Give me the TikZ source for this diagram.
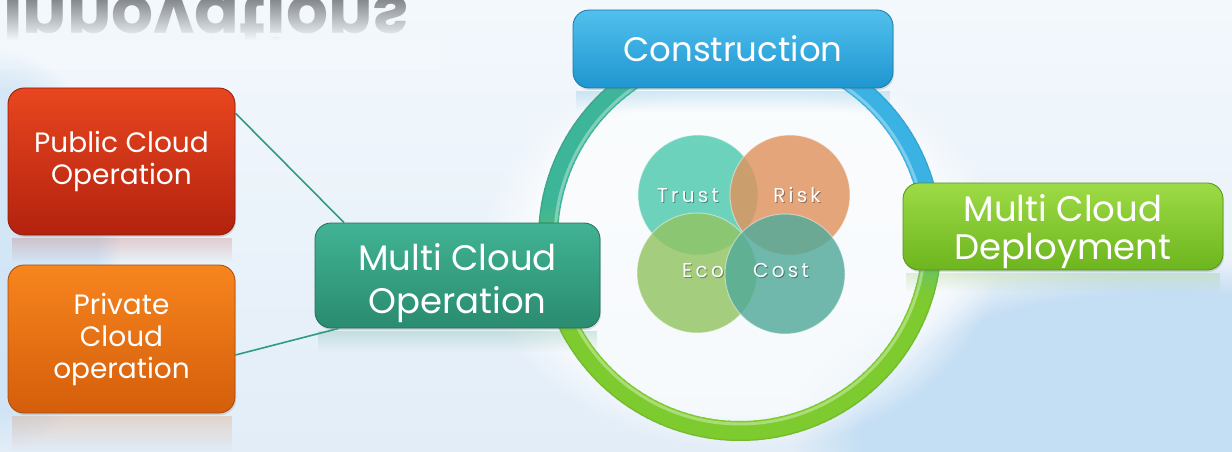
\documentclass[tikz,border=0pt]{standalone}
\usepackage{fontspec}
\setmainfont{Poppins}
\usetikzlibrary{fadings,shadows,calc}
\definecolor{bgT}{HTML}{F3F8FC}
\definecolor{bgB}{HTML}{E2EDF8}
\definecolor{bgBlue}{HTML}{C4DEF4}
\definecolor{refgray}{HTML}{868A90}
\definecolor{pubT}{HTML}{E8461F}
\definecolor{pubB}{HTML}{B3220E}
\definecolor{privT}{HTML}{F7851E}
\definecolor{privB}{HTML}{D45E0B}
\definecolor{mcoT}{HTML}{41B394}
\definecolor{mcoB}{HTML}{2A8B6F}
\definecolor{consT}{HTML}{52C0EE}
\definecolor{consB}{HTML}{1E96D0}
\definecolor{depT}{HTML}{9DDB45}
\definecolor{depB}{HTML}{6DB51E}
\definecolor{ringG}{HTML}{7DCB2E}
\definecolor{ringT}{HTML}{3DB598}
\definecolor{ringB}{HTML}{3AB2E3}
\definecolor{linkc}{HTML}{2F9C82}
\definecolor{vTrust}{HTML}{4FCAAE}
\definecolor{vRisk}{HTML}{E0935E}
\definecolor{vEco}{HTML}{92C463}
\definecolor{vCost}{HTML}{52AA9A}
\newcommand\lowerby[2]{\raisebox{-#1}[\height][\depth]{#2}}
\tikzset{
  box/.style={rounded corners=16pt, draw=#1, line width=0.8pt, text=white,
    align=center, inner sep=0pt,
    drop shadow={opacity=0.25, shadow xshift=1pt, shadow yshift=-2pt}},
  ringseg/.style={line width=20pt, line cap=butt},
  vcirc/.style={circle, minimum size=120pt, inner sep=0pt, fill=#1,
    fill opacity=0.82, draw=white, draw opacity=0.45, line width=1pt},
  vfont/.style={anchor=base, inner sep=0pt,
    font=\fontsize{20}{24}\selectfont\addfontfeature{LetterSpace=16}},
  vtext/.style={vfont, text=white},
  vshadow/.style={vfont, text=black, text opacity=0.35},
  link/.style={draw=linkc, line width=1.6pt},
  refl/.style={fill=#1, fill opacity=0.18, path fading=south}
}
\begin{document}
\begin{tikzpicture}[x=1pt,y=-1pt]
\useasboundingbox (0,0) rectangle (1232,452);
% background
\shade[top color=bgT, bottom color=bgB] (0,0) rectangle (1232,452);
% reflected title
\node[yscale=-1, anchor=base west, inner sep=0pt, text=refgray,
  font=\fontsize{66}{66}\selectfont\bfseries] (title) at (3,-3) {Innovations};
\fill[bgT, path fading=north] (0,0) rectangle (440,40);
\fill[bgT] (0,40) rectangle (440,70);
\fill[bgBlue, path fading=circle with fuzzy edge 20 percent] (1170,430) ellipse [x radius=380, y radius=170];
\fill[bgBlue, fill opacity=0.6, path fading=circle with fuzzy edge 20 percent] (0,250) ellipse [x radius=120, y radius=200];
\fill[white, fill opacity=0.7, path fading=circle with fuzzy edge 20 percent] (740,250) ellipse [x radius=260, y radius=200];
% reflections
\fill[refl=pubB] (12,238) rectangle (232,262);
\fill[refl=privB] (12,416) rectangle (232,452);
\fill[refl=mcoB] (318,331) rectangle (597,352);
\fill[refl=consB] (576,91) rectangle (890,112);
\fill[refl=depB] (906,273) rectangle (1220,292);
% ring
\coordinate (rc) at (740,239);
\foreach \a in {15,17,...,149}{\draw[ringseg, ringG] (rc) ++(\a:192) arc[start angle=\a, delta angle=2.6, radius=192];}
\foreach \a in {150,152,...,189}{\pgfmathsetmacro\p{(\a-150)*2.5}
  \draw[ringseg, ringT!\p!ringG] (rc) ++(\a:192) arc[start angle=\a, delta angle=2.6, radius=192];}
\foreach \a in {190,192,...,253}{\draw[ringseg, ringT] (rc) ++(\a:192) arc[start angle=\a, delta angle=2.6, radius=192];}
\foreach \a in {254,256,...,291}{\pgfmathsetmacro\p{(\a-254)/38*100}
  \draw[ringseg, ringB!\p!ringT] (rc) ++(\a:192) arc[start angle=\a, delta angle=2.6, radius=192];}
\foreach \a in {292,294,...,343}{\draw[ringseg, ringB] (rc) ++(\a:192) arc[start angle=\a, delta angle=2.6, radius=192];}
\foreach \a in {344,346,...,375}{\pgfmathsetmacro\p{(\a-344)/32*100}
  \draw[ringseg, ringG!\p!ringB] (rc) ++(\a:192) arc[start angle=\a, delta angle=2.6, radius=192];}
\draw[white, opacity=0.35, line width=3pt] (rc) circle[radius=185];
\draw[black, opacity=0.08, line width=1.5pt] (rc) circle[radius=201.5];
% boxes
\node[box=pubB!80!black, top color=pubT, bottom color=pubB, minimum width=227pt, minimum height=147pt,
  font=\fontsize{28}{32}\selectfont] (pub) at (121.5,161.5) {Public Cloud\\Operation};
\node[box=privB!80!black, top color=privT, bottom color=privB, minimum width=227pt, minimum height=148pt,
  font=\fontsize{28}{32}\selectfont] (priv) at (121.5,339) {Private\\Cloud\\operation};
\node[box=mcoB!80!black, top color=mcoT, bottom color=mcoB, minimum width=285pt, minimum height=105pt,
  font=\fontsize{35.5}{43}\selectfont] (mco) at (457.5,275.5) {\lowerby{8pt}{Multi Cloud}\\\lowerby{8pt}{Operation}};
\node[box=consB!80!black, top color=consT, bottom color=consB, minimum width=320pt, minimum height=78pt,
  font=\fontsize{34}{40}\selectfont] (cons) at (733,49) {Construction};
\node[box=depB!80!black, top color=depT, bottom color=depB, minimum width=320pt, minimum height=87pt,
  font=\fontsize{35.5}{38}\selectfont] (dep) at (1063,226.5) {\lowerby{5pt}{Multi Cloud}\\\lowerby{5pt}{Deployment}};
% connectors
\draw[link] (pub.23) -- (mco.155);
\draw[link] (priv.-8) -- (mco.204);
% venn
\node[vcirc=vTrust] (trust) at (698,195) {};
\node[vcirc=vRisk] (risk) at (790,195) {};
\node[vcirc=vEco] (eco) at (697,273) {};
\node[vcirc=vCost] (cost) at (785,274) {};
\node[vshadow] (sTrust) at (689,203.2) {Trust};
\node[vshadow] (sRisk) at (798,203.2) {Risk};
\node[vshadow] (sEco) at (704,278.2) {Eco};
\node[vshadow] (sCost) at (782,278.2) {Cost};
\node[vtext] (tTrust) at (688,202) {Trust};
\node[vtext] (tRisk) at (797,202) {Risk};
\node[vtext] (tEco) at (703,277) {Eco};
\node[vtext] (tCost) at (781,277) {Cost};
\end{tikzpicture}
\end{document}
